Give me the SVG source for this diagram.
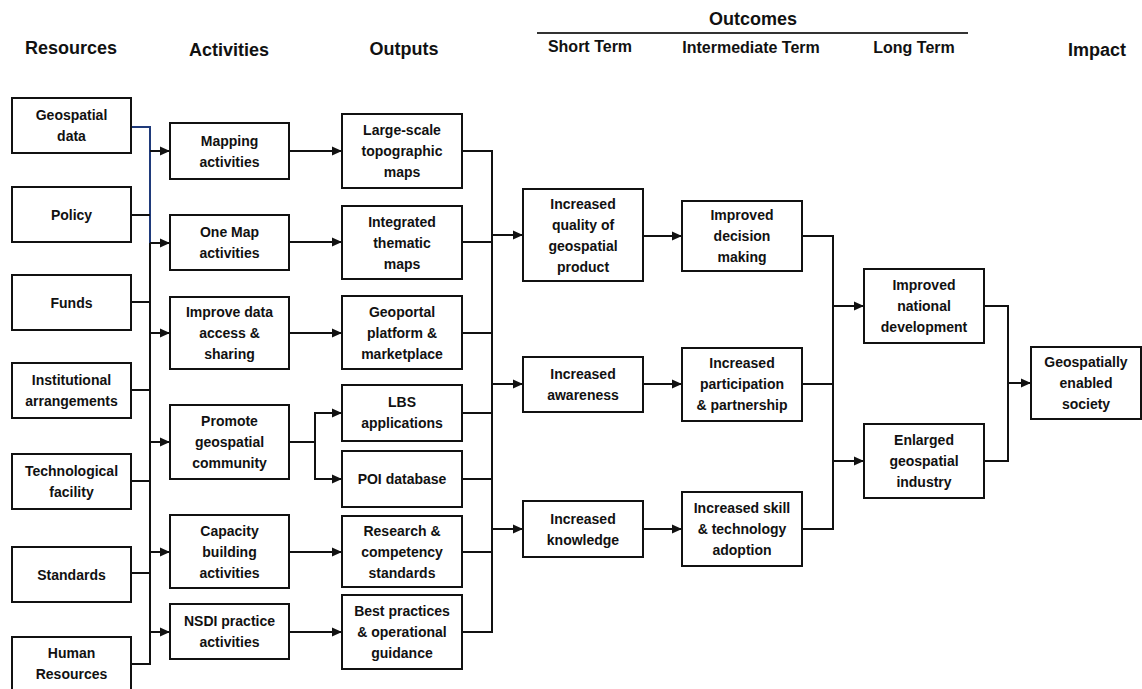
<svg xmlns="http://www.w3.org/2000/svg" width="1142" height="689" viewBox="0 0 1142 689">
<style>
.box{fill:#fff;stroke:#111;stroke-width:2}
.t{font-family:"Liberation Sans",Arial,sans-serif;font-weight:bold;font-size:14px;fill:#111;text-anchor:middle}
.h{font-family:"Liberation Sans",Arial,sans-serif;font-weight:bold;font-size:18px;fill:#111;text-anchor:middle}
.h2{font-family:"Liberation Sans",Arial,sans-serif;font-weight:bold;font-size:16px;fill:#111;text-anchor:middle}
.c{fill:none;stroke:#111;stroke-width:2}
.a{fill:none;stroke:#111;stroke-width:2;marker-end:url(#arr)}
.b{fill:none;stroke:#1f3a7a;stroke-width:2}
</style>
<defs>
<marker id="arr" markerUnits="userSpaceOnUse" markerWidth="11" markerHeight="10" refX="10" refY="5" orient="auto">
<path d="M0,0.5 L10,5 L0,9.5 z" fill="#111"/>
</marker>
</defs>
<rect width="1142" height="689" fill="#fff"/>
<g id="headers">
<text class="h" x="71" y="54">Resources</text>
<text class="h" x="229" y="56">Activities</text>
<text class="h" x="404" y="55">Outputs</text>
<text class="h" x="753" y="25">Outcomes</text>
<line x1="537" y1="33" x2="968" y2="33" stroke="#333" stroke-width="2"/>
<text class="h2" x="590" y="52">Short Term</text>
<text class="h2" x="751" y="53">Intermediate Term</text>
<text class="h2" x="914" y="53">Long Term</text>
<text class="h" x="1097" y="56">Impact</text>
</g>
<g id="connectors">
<polyline class="b" points="131,127 150,127 150,243"/>
<line class="c" x1="150" y1="243" x2="150" y2="665"/>
<line class="c" x1="131" y1="215" x2="150" y2="215"/>
<line class="c" x1="131" y1="302" x2="150" y2="302"/>
<line class="c" x1="131" y1="390" x2="150" y2="390"/>
<line class="c" x1="131" y1="481" x2="150" y2="481"/>
<line class="c" x1="131" y1="573" x2="150" y2="573"/>
<line class="c" x1="131" y1="664" x2="150" y2="664"/>
<line class="a" x1="150" y1="151" x2="170" y2="151"/>
<line class="a" x1="150" y1="243" x2="170" y2="243"/>
<line class="a" x1="150" y1="333" x2="170" y2="333"/>
<line class="a" x1="150" y1="442" x2="170" y2="442"/>
<line class="a" x1="150" y1="552" x2="170" y2="552"/>
<line class="a" x1="150" y1="632" x2="170" y2="632"/>
<line class="a" x1="289" y1="151" x2="342" y2="151"/>
<line class="a" x1="289" y1="242" x2="342" y2="242"/>
<line class="a" x1="289" y1="333" x2="342" y2="333"/>
<line class="c" x1="289" y1="442" x2="315" y2="442"/>
<line class="c" x1="315" y1="412" x2="315" y2="480"/>
<line class="a" x1="315" y1="413" x2="342" y2="413"/>
<line class="a" x1="315" y1="479" x2="342" y2="479"/>
<line class="a" x1="289" y1="552" x2="342" y2="552"/>
<line class="a" x1="289" y1="632" x2="342" y2="632"/>
<line class="c" x1="462" y1="151" x2="492" y2="151"/>
<line class="c" x1="462" y1="242" x2="492" y2="242"/>
<line class="c" x1="462" y1="333" x2="492" y2="333"/>
<line class="c" x1="462" y1="413" x2="492" y2="413"/>
<line class="c" x1="462" y1="479" x2="492" y2="479"/>
<line class="c" x1="462" y1="552" x2="492" y2="552"/>
<line class="c" x1="462" y1="632" x2="492" y2="632"/>
<line class="c" x1="492" y1="150" x2="492" y2="633"/>
<line class="a" x1="492" y1="235" x2="523" y2="235"/>
<line class="a" x1="492" y1="384" x2="523" y2="384"/>
<line class="a" x1="492" y1="529" x2="523" y2="529"/>
<line class="a" x1="643" y1="236" x2="682" y2="236"/>
<line class="a" x1="643" y1="384" x2="682" y2="384"/>
<line class="a" x1="643" y1="529" x2="682" y2="529"/>
<line class="c" x1="802" y1="236" x2="833" y2="236"/>
<line class="c" x1="802" y1="384" x2="833" y2="384"/>
<line class="c" x1="802" y1="529" x2="833" y2="529"/>
<line class="c" x1="833" y1="235" x2="833" y2="530"/>
<line class="a" x1="833" y1="306" x2="864" y2="306"/>
<line class="a" x1="833" y1="461" x2="864" y2="461"/>
<polyline class="c" points="984,306 1008,306 1008,461 984,461"/>
<line class="a" x1="1008" y1="383" x2="1031" y2="383"/>
</g>
<g id="r1"><rect class="box" x="12" y="98" width="119" height="55"/><text class="t" x="71.5" y="120">Geospatial</text><text class="t" x="71.5" y="141">data</text></g>
<g id="r2"><rect class="box" x="12" y="187" width="119" height="55"/><text class="t" x="71.5" y="220">Policy</text></g>
<g id="r3"><rect class="box" x="12" y="275" width="119" height="55"/><text class="t" x="71.5" y="308">Funds</text></g>
<g id="r4"><rect class="box" x="12" y="363" width="119" height="55"/><text class="t" x="71.5" y="385">Institutional</text><text class="t" x="71.5" y="406">arrangements</text></g>
<g id="r5"><rect class="box" x="12" y="454" width="119" height="55"/><text class="t" x="71.5" y="476">Technological</text><text class="t" x="71.5" y="497">facility</text></g>
<g id="r6"><rect class="box" x="12" y="547" width="119" height="55"/><text class="t" x="71.5" y="580">Standards</text></g>
<g id="r7"><rect class="box" x="12" y="637" width="119" height="55"/><text class="t" x="71.5" y="658">Human</text><text class="t" x="71.5" y="679">Resources</text></g>
<g id="a1"><rect class="box" x="170" y="123" width="119" height="56"/><text class="t" x="229.5" y="146">Mapping</text><text class="t" x="229.5" y="167">activities</text></g>
<g id="a2"><rect class="box" x="170" y="215" width="119" height="55"/><text class="t" x="229.5" y="237">One Map</text><text class="t" x="229.5" y="258">activities</text></g>
<g id="a3"><rect class="box" x="170" y="297" width="119" height="72"/><text class="t" x="229.5" y="317">Improve data</text><text class="t" x="229.5" y="338">access &amp;</text><text class="t" x="229.5" y="359">sharing</text></g>
<g id="a4"><rect class="box" x="170" y="405" width="119" height="74"/><text class="t" x="229.5" y="426">Promote</text><text class="t" x="229.5" y="447">geospatial</text><text class="t" x="229.5" y="468">community</text></g>
<g id="a5"><rect class="box" x="170" y="515" width="119" height="73"/><text class="t" x="229.5" y="536">Capacity</text><text class="t" x="229.5" y="557">building</text><text class="t" x="229.5" y="578">activities</text></g>
<g id="a6"><rect class="box" x="170" y="604" width="119" height="55"/><text class="t" x="229.5" y="626">NSDI practice</text><text class="t" x="229.5" y="647">activities</text></g>
<g id="o1"><rect class="box" x="342" y="114" width="120" height="74"/><text class="t" x="402" y="135">Large-scale</text><text class="t" x="402" y="156">topographic</text><text class="t" x="402" y="177">maps</text></g>
<g id="o2"><rect class="box" x="342" y="206" width="120" height="73"/><text class="t" x="402" y="227">Integrated</text><text class="t" x="402" y="248">thematic</text><text class="t" x="402" y="269">maps</text></g>
<g id="o3"><rect class="box" x="342" y="296" width="120" height="73"/><text class="t" x="402" y="317">Geoportal</text><text class="t" x="402" y="338">platform &amp;</text><text class="t" x="402" y="359">marketplace</text></g>
<g id="o4"><rect class="box" x="342" y="385" width="120" height="56"/><text class="t" x="402" y="407">LBS</text><text class="t" x="402" y="428">applications</text></g>
<g id="o5"><rect class="box" x="342" y="451" width="120" height="56"/><text class="t" x="402" y="484">POI database</text></g>
<g id="o6"><rect class="box" x="342" y="516" width="120" height="71"/><text class="t" x="402" y="536">Research &amp;</text><text class="t" x="402" y="557">competency</text><text class="t" x="402" y="578">standards</text></g>
<g id="o7"><rect class="box" x="342" y="595" width="120" height="74"/><text class="t" x="402" y="616">Best practices</text><text class="t" x="402" y="637">&amp; operational</text><text class="t" x="402" y="658">guidance</text></g>
<g id="s1"><rect class="box" x="523" y="189" width="120" height="92"/><text class="t" x="583" y="209">Increased</text><text class="t" x="583" y="230">quality of</text><text class="t" x="583" y="251">geospatial</text><text class="t" x="583" y="272">product</text></g>
<g id="s2"><rect class="box" x="523" y="357" width="120" height="55"/><text class="t" x="583" y="379">Increased</text><text class="t" x="583" y="400">awareness</text></g>
<g id="s3"><rect class="box" x="523" y="501" width="120" height="56"/><text class="t" x="583" y="524">Increased</text><text class="t" x="583" y="545">knowledge</text></g>
<g id="i1"><rect class="box" x="682" y="201" width="120" height="70"/><text class="t" x="742" y="220">Improved</text><text class="t" x="742" y="241">decision</text><text class="t" x="742" y="262">making</text></g>
<g id="i2"><rect class="box" x="682" y="348" width="120" height="73"/><text class="t" x="742" y="368">Increased</text><text class="t" x="742" y="389">participation</text><text class="t" x="742" y="410">&amp; partnership</text></g>
<g id="i3"><rect class="box" x="682" y="492" width="120" height="74"/><text class="t" x="742" y="513">Increased skill</text><text class="t" x="742" y="534">&amp; technology</text><text class="t" x="742" y="555">adoption</text></g>
<g id="l1"><rect class="box" x="864" y="269" width="120" height="74"/><text class="t" x="924" y="290">Improved</text><text class="t" x="924" y="311">national</text><text class="t" x="924" y="332">development</text></g>
<g id="l2"><rect class="box" x="864" y="424" width="120" height="74"/><text class="t" x="924" y="445">Enlarged</text><text class="t" x="924" y="466">geospatial</text><text class="t" x="924" y="487">industry</text></g>
<g id="im1"><rect class="box" x="1031" y="347" width="110" height="72"/><text class="t" x="1086" y="367">Geospatially</text><text class="t" x="1086" y="388">enabled</text><text class="t" x="1086" y="409">society</text></g>
</svg>
